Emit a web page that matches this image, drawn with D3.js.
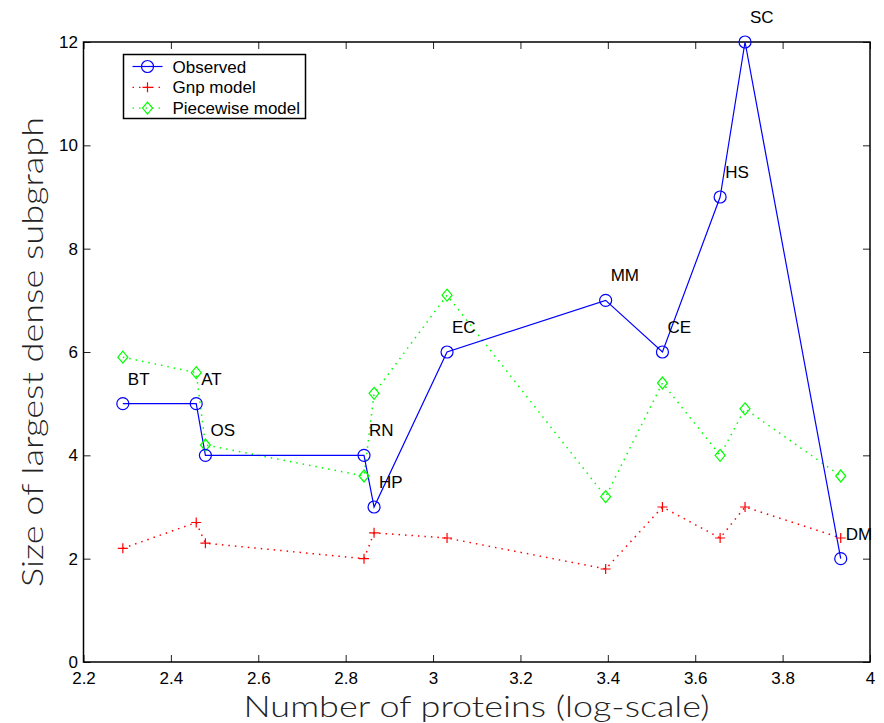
<!DOCTYPE html>
<html>
<head>
<meta charset="utf-8">
<script src="https://cdn.jsdelivr.net/npm/d3@7"></script>
<style>
  body { margin: 0; background: #fff; }
  text { font-family: "Liberation Sans", Arial, sans-serif; }
</style>
</head>
<body>
<svg width="884" height="723"></svg>
<script>
// organism codes and log10(number of proteins)
const organisms = ['BT', 'AT', 'OS', 'RN', 'HP', 'EC', 'MM', 'CE', 'HS', 'SC', 'DM'];
const logProteins = [2.290, 2.458, 2.479, 2.842, 2.865, 3.032, 3.395, 3.525, 3.657, 3.714, 3.933];
const observed = [5, 5, 4, 4, 3, 6, 7, 6, 9, 12, 2];
const gnpModel = [2.2, 2.7, 2.3, 2.0, 2.5, 2.4, 1.8, 3.0, 2.4, 3.0, 2.4];
const piecewiseModel = [5.9, 5.6, 4.2, 3.6, 5.2, 7.1, 3.2, 5.4, 4.0, 4.9, 3.6];
const xTicks = [2.2, 2.4, 2.6, 2.8, 3, 3.2, 3.4, 3.6, 3.8, 4];
const yTicks = [0, 2, 4, 6, 8, 10, 12];
const legendNames = ['Observed', 'Gnp model', 'Piecewise model'];

const svg = d3.select('svg');
const margin = {top: 42, right: 14, bottom: 61, left: 83.5};
const width = +svg.attr('width') - margin.left - margin.right;
const height = +svg.attr('height') - margin.top - margin.bottom;

const chart = svg.append('g')
    .attr('transform', `translate(${margin.left},${margin.top})`);

const x = d3.scaleLinear().domain([2.2, 4]).range([0, width]);
const y = d3.scaleLinear().domain([0, 12]).range([height, 0]);

// box + ticks on all four sides, ticks pointing in
const tickLen = 7;
const styleAxis = g => {
    g.select('.domain').remove();
    g.selectAll('line').attr('stroke', '#222');
    g.selectAll('text').attr('fill', '#000').style('font-size', '17px');
};
chart.append('g').attr('transform', `translate(0,${height})`)
    .call(d3.axisBottom(x).tickValues(xTicks).tickSize(-tickLen).tickPadding(10).tickFormat(d3.format('')))
    .call(styleAxis);
chart.append('g')
    .call(d3.axisTop(x).tickValues(xTicks).tickSize(-tickLen).tickFormat(''))
    .call(styleAxis);
chart.append('g')
    .call(d3.axisLeft(y).tickValues(yTicks).tickSize(-tickLen).tickPadding(5.5))
    .call(styleAxis);
chart.append('g').attr('transform', `translate(${width},0)`)
    .call(d3.axisRight(y).tickValues(yTicks).tickSize(-tickLen).tickFormat(''))
    .call(styleAxis);
chart.append('rect')
    .attr('width', width).attr('height', height)
    .attr('fill', 'none').attr('stroke', '#000').attr('stroke-width', 1.5);

// series
const blue = '#0000ff', red = '#ff0000', green = '#00ff00';
const idx = d3.range(organisms.length);
const line = vals => d3.line().x(i => x(logProteins[i])).y(i => y(vals[i]))(idx);

chart.append('path').attr('d', line(piecewiseModel))
    .attr('fill', 'none').attr('stroke', green).attr('stroke-width', 1.5)
    .attr('stroke-dasharray', '1.5,5');
chart.append('path').attr('d', line(gnpModel))
    .attr('fill', 'none').attr('stroke', red).attr('stroke-width', 1.5)
    .attr('stroke-dasharray', '1.5,5');
chart.append('path').attr('d', line(observed))
    .attr('fill', 'none').attr('stroke', blue).attr('stroke-width', 1.2);

const diamond = (cx, cy) => `M${cx},${cy - 6}L${cx + 5},${cy}L${cx},${cy + 6}L${cx - 5},${cy}Z`;
const plus = (cx, cy) => `M${cx - 5},${cy}H${cx + 5}M${cx},${cy - 5}V${cy + 5}`;

chart.selectAll('.pw').data(idx).join('path')
    .attr('d', i => diamond(x(logProteins[i]), y(piecewiseModel[i])))
    .attr('fill', 'none').attr('stroke', green).attr('stroke-width', 1.2);
chart.selectAll('.gnp').data(idx).join('path')
    .attr('d', i => plus(x(logProteins[i]), y(gnpModel[i])))
    .attr('fill', 'none').attr('stroke', red).attr('stroke-width', 1.2);
chart.selectAll('.obs').data(idx).join('circle')
    .attr('cx', i => x(logProteins[i])).attr('cy', i => y(observed[i]))
    .attr('r', 6).attr('fill', 'none').attr('stroke', blue).attr('stroke-width', 1.2);

// organism labels
chart.selectAll('.lab').data(idx).join('text')
    .attr('x', i => x(logProteins[i]) + 5)
    .attr('y', i => y(observed[i]) - 19)
    .style('font-size', '17px')
    .text(i => organisms[i]);

// legend
const lg = svg.append('g').attr('transform', 'translate(123.5,54.5)');
lg.append('rect').attr('width', 182).attr('height', 64)
    .attr('fill', '#fff').attr('stroke', '#000').attr('stroke-width', 1.5);
const legendColors = [blue, red, green];
legendNames.forEach((name, k) => {
    const ry = 12 + k * 20.8;
    lg.append('line').attr('x1', 9).attr('x2', 39).attr('y1', ry).attr('y2', ry)
        .attr('stroke', legendColors[k]).attr('stroke-width', 1.2)
        .attr('stroke-dasharray', k === 0 ? null : '1.5,5');
    if (k === 0) lg.append('circle').attr('cx', 24).attr('cy', ry).attr('r', 6)
        .attr('fill', 'none').attr('stroke', blue).attr('stroke-width', 1.2);
    if (k === 1) lg.append('path').attr('d', plus(24, ry))
        .attr('stroke', red).attr('stroke-width', 1.2);
    if (k === 2) lg.append('path').attr('d', diamond(24, ry))
        .attr('fill', 'none').attr('stroke', green).attr('stroke-width', 1.2);
    lg.append('text').attr('x', 49).attr('y', ry + 6).style('font-size', '17px').text(name);
});

// axis titles
svg.append('text')
    .attr('x', 476.5).attr('y', 717)
    .attr('text-anchor', 'middle')
    .attr('textLength', 466).attr('lengthAdjust', 'spacingAndGlyphs')
    .style('font-family', 'Lato, "Open Sans", sans-serif').style('font-weight', 300)
    .style('font-size', '29px').attr('fill', '#222')
    .text('Number of proteins (log-scale)');
svg.append('text')
    .attr('transform', 'translate(43,352) rotate(-90)')
    .attr('text-anchor', 'middle')
    .attr('textLength', 470).attr('lengthAdjust', 'spacingAndGlyphs')
    .style('font-family', 'Lato, "Open Sans", sans-serif').style('font-weight', 300)
    .style('font-size', '30px').attr('fill', '#222')
    .text('Size of largest dense subgraph');
</script>
</body>
</html>
